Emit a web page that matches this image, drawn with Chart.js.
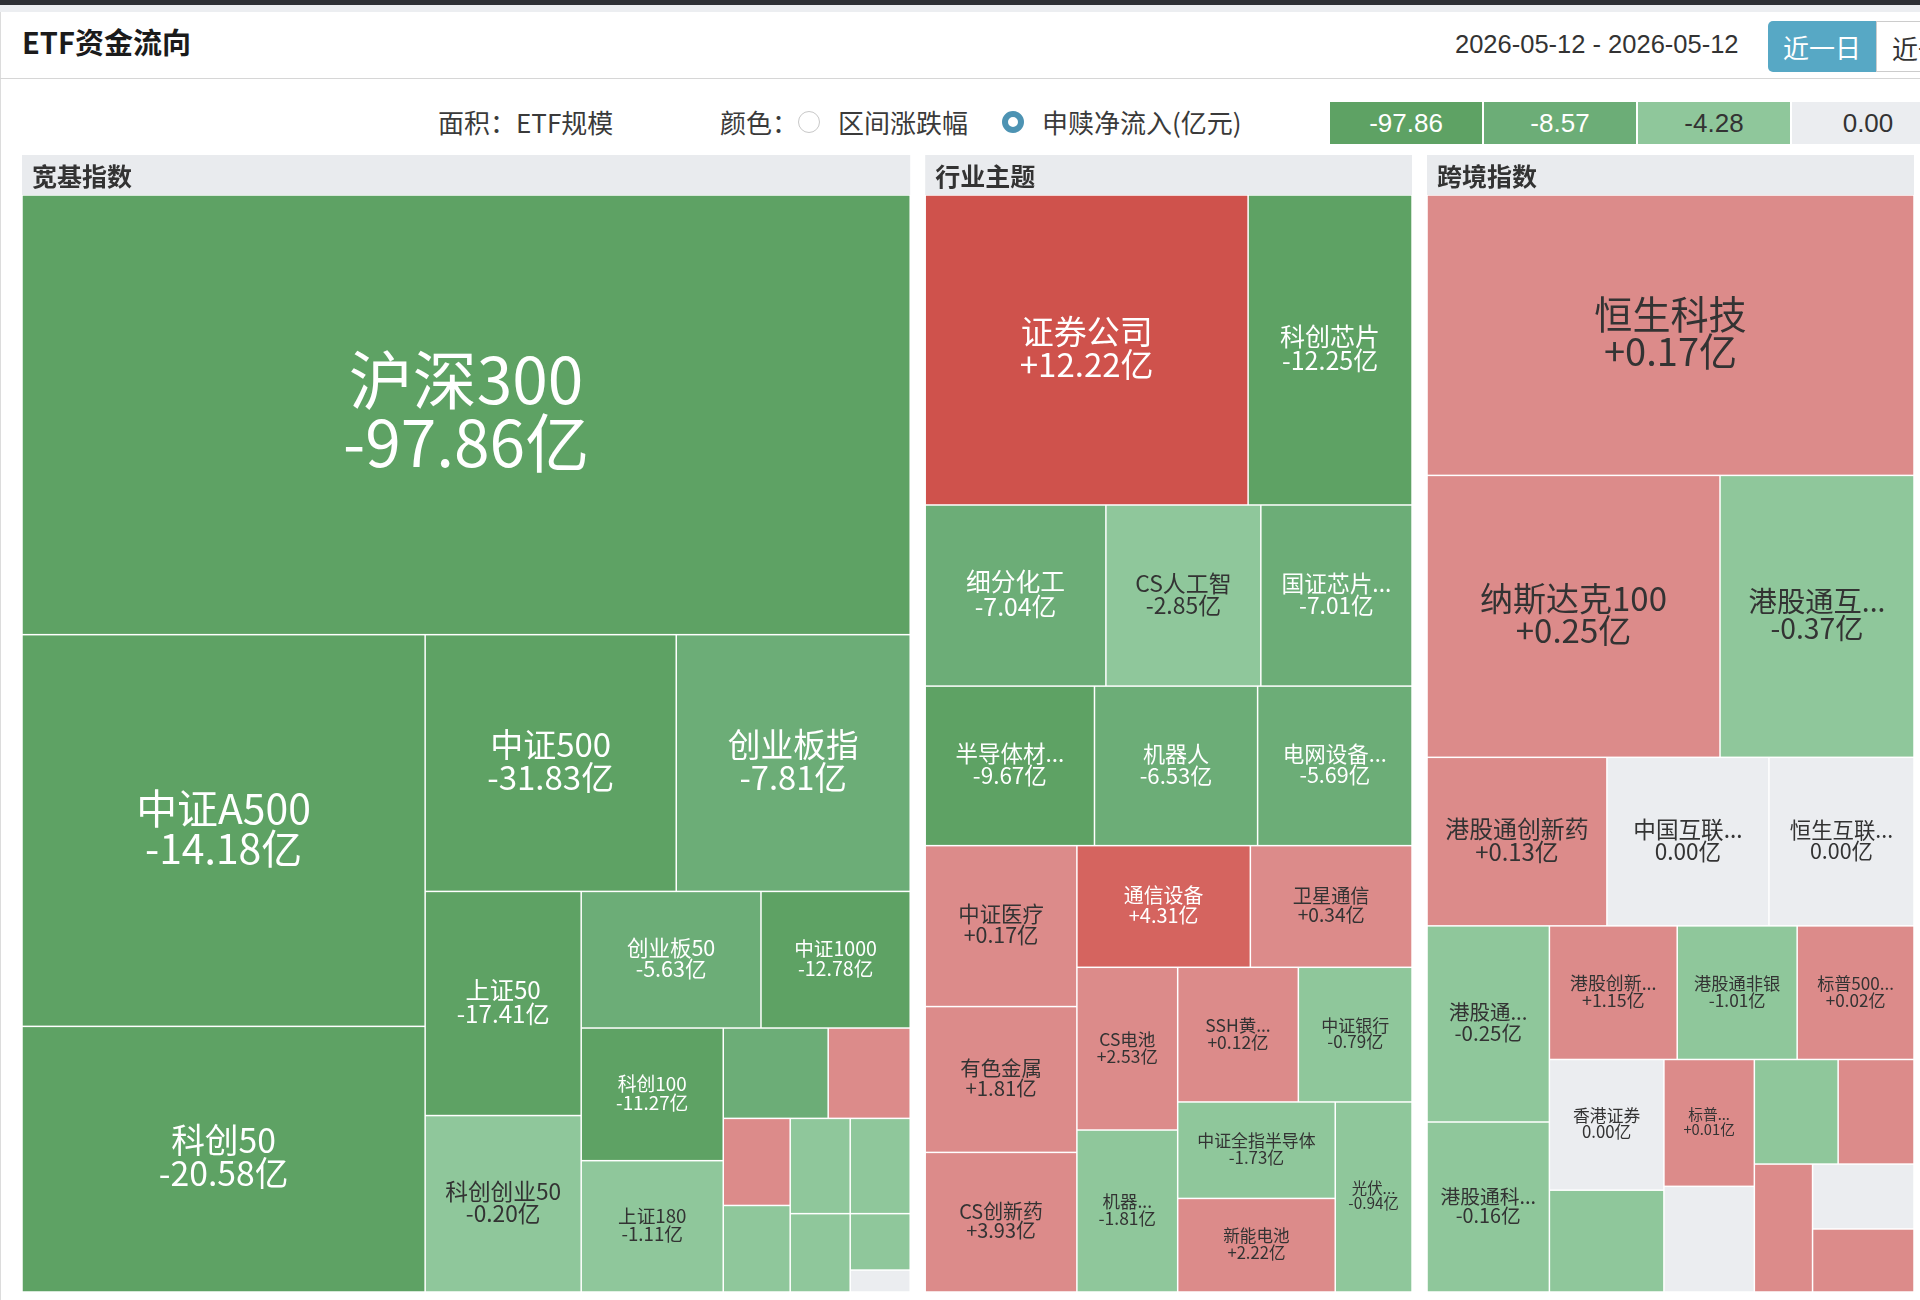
<!DOCTYPE html>
<html lang="zh-CN">
<head>
<meta charset="utf-8">
<title>ETF资金流向</title>
<script src="https://cdn.jsdelivr.net/npm/chart.js@4.4.1/dist/chart.umd.min.js"></script>
<style>
  html, body { margin: 0; padding: 0; width: 1920px; height: 1300px; overflow: hidden; background: #fff;
    font-family: "Noto Sans CJK SC", "Noto Sans", sans-serif; color: #333; }
  .topbar { position: absolute; left: 0; top: 0; width: 1920px; height: 5px; background: #2e3035; }
  .strip { position: absolute; left: 0; top: 5px; width: 1920px; height: 7px; background: #eceef1; }
  .edge { position: absolute; left: 0; top: 12px; width: 1px; height: 1288px; background: #dcdcdc; }
  .title { position: absolute; left: 22px; top: 23px; font-size: 29px; font-weight: 700; line-height: 36px; color: #1b1b1b; }
  .sep { position: absolute; left: 0; top: 78px; width: 1920px; height: 1px; background: #d6d6d6; }
  .date { position: absolute; left: 1455px; top: 27px; font: 25.5px "Liberation Sans", Arial, sans-serif; line-height: 34px; color: #333; }
  .btn { position: absolute; top: 21px; height: 51px; line-height: 51px; font-size: 26px; text-align: center; box-sizing: border-box; }
  .btn.on { left: 1768px; width: 108px; background: #57a8c5; color: #fff; border-radius: 5px 0 0 5px; }
  .btn.off { left: 1876px; width: 110px; background: #fff; color: #333; border: 1px solid #ccc; }
  .ctl { position: absolute; top: 105px; font-size: 26px; line-height: 34px; color: #3a3a3a; white-space: nowrap; }
  .radio { position: absolute; top: 111px; width: 22px; height: 22px; border-radius: 50%; box-sizing: border-box; background: #fff; }
  .radio.off { border: 1px solid #c8c8c8; }
  .radio.on { border: 6px solid #4d93b3; }
  #legend { position: absolute; left: 1330px; top: 102px; display: flex; gap: 2px; }
  #legend div { flex: none; width: 152px; height: 42px; text-align: center; font: 26px "Liberation Sans", Arial, sans-serif; line-height: 42px; }
  #wrap { position: absolute; left: 22px; top: 155px; width: 1892px; height: 1137px; }
</style>
</head>
<body>
<div class="topbar"></div>
<div class="strip"></div>
<div class="edge"></div>
<div class="title">ETF资金流向</div>
<div class="date">2026-05-12 - 2026-05-12</div>
<div class="btn on">近一日</div>
<div class="btn off">近一周</div>
<div class="sep"></div>
<div class="ctl" style="left:438px">面积：ETF规模</div>
<div class="ctl" style="left:720px">颜色：</div>
<div class="radio off" style="left:798px"></div>
<div class="ctl" style="left:838px">区间涨跌幅</div>
<div class="radio on" style="left:1002px"></div>
<div class="ctl" style="left:1042px">申赎净流入(亿元)</div>
<div id="legend"></div>
<div id="wrap"><canvas id="map" width="1892" height="1137"></canvas></div>

<script>
// groups
const groupNames = ["宽基指数", "行业主题", "跨境指数"];

// 宽基指数: size = ETF规模(亿), flow = 申赎净流入(亿)
const broadNames = ["沪深300", "中证A500", "科创50", "中证500", "创业板指", "上证50", "科创创业50", "创业板50",
  "中证1000", "科创100", "上证180", "", "", "", "", "", "", "", "", ""];
const broadSize = [10382, 4198, 2847, 1714, 1597, 930, 732, 653, 542, 501, 496, 252, 197, 155, 154, 152, 152, 125, 90, 35];
const broadFlow = [-97.86, -14.18, -20.58, -31.83, -7.81, -17.41, -0.20, -5.63, -12.78, -11.27, -1.11,
  -5.2, 0.6, 0.4, -0.5, -0.6, -0.3, -0.2, -0.1, 0];

// 行业主题
const sectorNames = ["证券公司", "科创芯片", "细分化工", "CS人工智", "国证芯片...", "半导体材...", "机器人", "电网设备...",
  "中证医疗", "有色金属", "CS创新药", "通信设备", "卫星通信", "CS电池", "机器...", "SSH黄...", "中证银行",
  "中证全指半导体", "新能电池", "光伏..."];
const sectorSize = [2661, 1351, 870, 746, 728, 718, 692, 655, 649, 588, 563, 561, 523, 436, 434, 432, 407, 404, 392, 388];
const sectorFlow = [12.22, -12.25, -7.04, -2.85, -7.01, -9.67, -6.53, -5.69, 0.17, 1.81, 3.93, 4.31, 0.34, 2.53,
  -1.81, 0.12, -0.79, -1.73, 2.22, -0.94];

// 跨境指数
const crossNames = ["恒生科技", "纳斯达克100", "港股通互...", "港股通创新药", "中国互联...", "恒生互联...", "港股通...",
  "港股通科...", "港股创新...", "港股通非银", "标普500...", "香港证券", "", "标普...", "", "", "", "", "", ""];
const crossSize = [3630, 2196, 1454, 806, 726, 650, 638, 553, 454, 426, 415, 398, 310, 305, 254, 233, 211, 198, 175, 170];
const crossFlow = [0.17, 0.25, -0.37, 0.13, 0, 0, -0.25, -0.16, 1.15, -1.01, 0.02, 0, -0.3, 0.01, 0,
  -0.2, 0.4, 0.3, 0, 0.2];

// colour legend breaks
const legendStops = [-97.86, -8.57, -4.28, 0, 4.28, 8.57, 12.22];

const palette = ["#5ea264", "#6cad77", "#8fc79b", "#ebedf0", "#dc8b8a", "#d5645f", "#cf524c"];

function bucket(v) {
  if (v < legendStops[1]) return 0;
  if (v < legendStops[2]) return 1;
  if (v < 0) return 2;
  if (v === 0) return 3;
  if (v <= legendStops[4]) return 4;
  if (v <= legendStops[5]) return 5;
  return 6;
}
const darkText = [false, false, true, true, true, false, false];

// legend boxes
const legendEl = document.getElementById("legend");
legendStops.forEach((s, i) => {
  const d = document.createElement("div");
  d.style.background = palette[i];
  d.style.color = darkText[i] ? "#333" : "#fff";
  d.textContent = s.toFixed(2);
  legendEl.appendChild(d);
});

// row plans: direction + how many nodes share each squarified row
const topPlan = [["v", 1], ["h", 2]];
const plans = [
  [["h", 1], ["v", 2], ["h", 2], ["v", 2], ["h", 2], ["v", 2], ["h", 2], ["v", 2], ["h", 2], ["v", 1], ["h", 1], ["h", 1]],
  [["h", 2], ["h", 3], ["h", 3], ["v", 3], ["h", 2], ["v", 2], ["h", 2], ["v", 2], ["h", 1]],
  [["h", 1], ["h", 2], ["h", 3], ["v", 2], ["h", 3], ["v", 2], ["v", 2], ["h", 2], ["v", 1], ["h", 1], ["h", 1]]
];

const W = 1892, H = 1137, GAP = 15, HEAD = 40;

function layoutRows(sizes, rect, plan) {
  const total = sizes.reduce((a, b) => a + b, 0);
  const k = rect.w * rect.h / total;
  const out = [];
  const r = { ...rect };
  let i = 0;
  plan.forEach(([dir, n], pi) => {
    const part = sizes.slice(i, i + n);
    const area = part.reduce((a, b) => a + b, 0) * k;
    const last = pi === plan.length - 1;
    if (dir === "h") {
      const t = last ? r.h : area / r.w;
      let x = r.x;
      part.forEach((s, j) => {
        const w = j === n - 1 ? r.x + r.w - x : s * k / t;
        out.push({ x: x, y: r.y, w: w, h: t });
        x += w;
      });
      r.y += t; r.h -= t;
    } else {
      const t = last ? r.w : area / r.h;
      let y = r.y;
      part.forEach((s, j) => {
        const h = j === n - 1 ? r.y + r.h - y : s * k / t;
        out.push({ x: r.x, y: y, w: t, h: h });
        y += h;
      });
      r.x += t; r.w -= t;
    }
    i += n;
  });
  return out;
}

const groupData = [
  { names: broadNames, size: broadSize, flow: broadFlow },
  { names: sectorNames, size: sectorSize, flow: sectorFlow },
  { names: crossNames, size: crossSize, flow: crossFlow }
];
const groupTotals = groupData.map(g => g.size.reduce((a, b) => a + b, 0));
// columns side by side, gaps taken out before splitting the width
const groupRects = layoutRows(groupTotals, { x: 0, y: 0, w: W - GAP * (groupNames.length - 1), h: H }, topPlan)
  .map((r, i) => ({ x: r.x + i * GAP, y: r.y, w: r.w, h: r.h }));

const cells = [];
groupData.forEach((g, gi) => {
  const gr = groupRects[gi];
  const rects = layoutRows(g.size, { x: gr.x, y: gr.y + HEAD, w: gr.w, h: gr.h - HEAD }, plans[gi]);
  rects.forEach((r, i) => cells.push({ ...r, group: gi, name: g.names[i], flow: g.flow[i] }));
});

function flowText(v) {
  if (v === 0) return "0.00亿";
  return (v > 0 ? "+" : "") + v.toFixed(2) + "亿";
}

function fitText(ctx, text, maxW) {
  if (ctx.measureText(text).width <= maxW) return text;
  let base = text.replace(/\.\.\.$/, "");
  while (base.length > 1 && ctx.measureText(base + "...").width > maxW) base = base.slice(0, -1);
  return base + "...";
}

const treemapPlugin = {
  id: "treemapCells",
  afterDatasetsDraw(chart) {
    const { ctx, scales: { x, y } } = chart;
    ctx.save();
    groupRects.forEach((gr, gi) => {
      const x0 = x.getPixelForValue(gr.x), x1 = x.getPixelForValue(gr.x + gr.w);
      const y0 = y.getPixelForValue(gr.y), y1 = y.getPixelForValue(gr.y + HEAD);
      ctx.fillStyle = "#e9ebee";
      ctx.fillRect(x0, y0, x1 - x0, y1 - y0);
      ctx.fillStyle = "#333";
      ctx.font = 'bold 25px "Noto Sans CJK SC", sans-serif';
      ctx.textAlign = "left";
      ctx.textBaseline = "middle";
      ctx.fillText(groupNames[gi], x0 + 10, (y0 + y1) / 2 + 1);
    });
    cells.forEach(c => {
      const x0 = x.getPixelForValue(c.x), x1 = x.getPixelForValue(c.x + c.w);
      const y0 = y.getPixelForValue(c.y), y1 = y.getPixelForValue(c.y + c.h);
      const b = bucket(c.flow);
      ctx.fillStyle = palette[b];
      ctx.fillRect(x0 + 0.75, y0 + 0.75, x1 - x0 - 1.5, y1 - y0 - 1.5);
      if (!c.name) return;
      const w = x1 - x0, h = y1 - y0;
      const s = Math.sqrt(w * h);
      let fs = Math.max(Math.min(0.137 * s, 33, 0.11 * w + 7), 0.103 * s);
      fs = Math.max(12, Math.min(64, fs));
      const lh = fs * 0.98;
      ctx.font = `${fs.toFixed(1)}px "Noto Sans CJK SC", sans-serif`;
      ctx.fillStyle = darkText[b] ? "#333" : "#fff";
      ctx.textAlign = "center";
      ctx.textBaseline = "middle";
      const cx = (x0 + x1) / 2, cy = (y0 + y1) / 2 - fs * 0.06;
      const maxW = w - 24;
      ctx.fillText(fitText(ctx, c.name, maxW), cx, cy - lh / 2);
      ctx.fillText(fitText(ctx, flowText(c.flow), maxW), cx, cy + lh / 2);
    });
    ctx.restore();
  }
};

new Chart(document.getElementById("map"), {
  type: "scatter",
  data: {
    datasets: groupNames.map((gname, gi) => ({
      label: gname,
      data: cells.filter(c => c.group === gi).map(c => ({ x: c.x + c.w / 2, y: c.y + c.h / 2 })),
      pointRadius: 0
    }))
  },
  options: {
    responsive: false,
    animation: false,
    events: [],
    layout: { padding: 0 },
    scales: {
      x: { type: "linear", min: 0, max: W, display: false },
      y: { type: "linear", min: 0, max: H, reverse: true, display: false }
    },
    plugins: { legend: { display: false }, tooltip: { enabled: false } }
  },
  plugins: [treemapPlugin]
});
</script>
</body>
</html>
